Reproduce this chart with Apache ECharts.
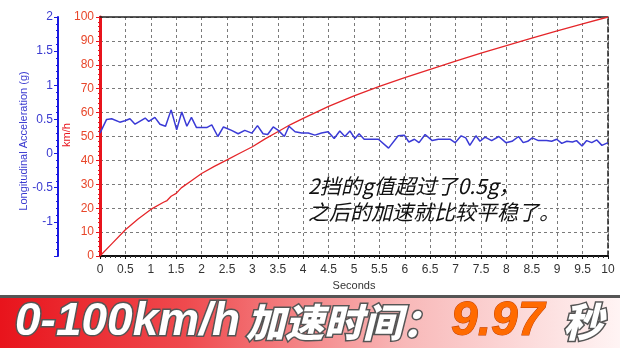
<!DOCTYPE html>
<html><head><meta charset="utf-8">
<script src="https://cdn.jsdelivr.net/npm/echarts@6/dist/echarts.min.js"></script>
<style>html,body{margin:0;padding:0;background:#fff;}#c{width:620px;height:348px;}</style>
</head><body><div id="c"></div>
<script>
// Speed (km/h) vs time (s)
const speedData = [[0,0],[0.25,5.5],[0.5,11],[0.75,15.5],[1.0,19.5],[1.25,22.5],[1.32,23.2],[1.4,25],[1.5,26.2],[1.6,28.5],[1.8,31.5],[2.0,34.5],[2.25,37.5],[2.5,40.2],[2.75,43],[3.0,45.7],[3.25,49],[3.5,52],[3.75,55],[4.0,57.6],[4.5,62.6],[5.0,67],[5.5,71],[6.0,74.6],[6.5,78.1],[7.0,81.5],[7.5,84.9],[8.0,88],[8.5,91.2],[9.0,94.2],[9.5,97.1],[10,100]];
// Longitudinal acceleration (g) vs time (s)
const accelData = [[0,0.30],[0.13,0.50],[0.23,0.51],[0.39,0.46],[0.49,0.48],[0.59,0.51],[0.69,0.43],[0.89,0.52],[0.96,0.47],[1.08,0.53],[1.18,0.43],[1.29,0.40],[1.40,0.64],[1.51,0.35],[1.61,0.61],[1.71,0.40],[1.80,0.53],[1.90,0.38],[2.00,0.38],[2.10,0.38],[2.20,0.42],[2.32,0.25],[2.43,0.39],[2.59,0.34],[2.72,0.29],[2.85,0.34],[2.99,0.30],[3.10,0.41],[3.21,0.29],[3.30,0.28],[3.41,0.39],[3.51,0.34],[3.63,0.25],[3.72,0.40],[3.84,0.32],[3.97,0.30],[4.10,0.30],[4.23,0.27],[4.36,0.30],[4.49,0.32],[4.61,0.22],[4.72,0.33],[4.82,0.25],[4.92,0.33],[5.02,0.22],[5.10,0.29],[5.20,0.21],[5.48,0.21],[5.68,0.08],[5.87,0.26],[5.99,0.27],[6.08,0.17],[6.19,0.21],[6.28,0.16],[6.40,0.28],[6.54,0.19],[6.66,0.21],[6.79,0.21],[6.89,0.21],[6.99,0.16],[7.11,0.26],[7.20,0.23],[7.28,0.12],[7.40,0.26],[7.48,0.18],[7.58,0.24],[7.71,0.19],[7.85,0.25],[7.99,0.16],[8.11,0.18],[8.24,0.25],[8.33,0.16],[8.42,0.18],[8.51,0.23],[8.63,0.19],[8.79,0.19],[8.89,0.18],[8.99,0.21],[9.09,0.15],[9.19,0.18],[9.30,0.17],[9.38,0.19],[9.49,0.11],[9.58,0.19],[9.68,0.16],[9.78,0.20],[9.88,0.12],[10.0,0.16]];
const xRange = [0, 10, 0.5];
const speedRange = [0, 100, 10];
const accelRange = [-1.5, 2, 0.5];
const annotationLines = ['2挡的g值超过了0.5g，', '之后的加速就比较平稳了。'];
const bannerLatin = '0-100km/h';
const bannerCJK = '加速时间：';
const bannerValue = '9.97';
const bannerUnit = '秒';

const chart = echarts.init(document.getElementById('c'), null, {renderer: 'canvas'});
const font = '"Liberation Sans", Arial, sans-serif';
const dashed = {color: '#7a7a7a', width: 1, type: [3, 3]};
const outline = {stroke: '#555', lineWidth: 3, strokeFirst: true,
  shadowColor: 'rgba(0,0,0,0.45)', shadowOffsetX: 2, shadowOffsetY: 2, shadowBlur: 2};
chart.setOption({
  animation: false,
  backgroundColor: '#fff',
  grid: {left: 100, right: 12, top: 17, bottom: 92},
  xAxis: [{
    type: 'value', min: xRange[0], max: xRange[1], interval: xRange[2],
    name: 'Seconds', nameLocation: 'middle', nameGap: 24,
    nameTextStyle: {color: '#333', fontSize: 11, fontFamily: font},
    axisLine: {onZero: false, lineStyle: {color: '#111', width: 2}},
    axisTick: {show: true, length: 3, lineStyle: {color: '#111'}},
    minorTick: {show: true, splitNumber: 5, length: 2, lineStyle: {color: '#333'}},
    axisLabel: {color: '#333', fontSize: 12, fontFamily: font, margin: 8},
    splitLine: {show: true, lineStyle: dashed}
  }, {
    type: 'value', position: 'top', min: xRange[0], max: xRange[1],
    axisLine: {show: true, onZero: false, lineStyle: {color: '#222', width: 1.5}},
    axisTick: {show: false}, axisLabel: {show: false}, splitLine: {show: false}
  }],
  yAxis: [{
    type: 'value', position: 'left', min: speedRange[0], max: speedRange[1], interval: speedRange[2],
    axisLine: {show: true, onZero: false, lineStyle: {color: '#e8141c', width: 3}},
    axisTick: {show: true, length: 4, lineStyle: {color: '#e8141c'}},
    minorTick: {show: true, splitNumber: 5, length: 2, lineStyle: {color: '#e8141c'}},
    axisLabel: {color: '#e8462a', fontSize: 12, fontFamily: font, margin: 6},
    splitLine: {show: true, lineStyle: dashed}
  }, {
    type: 'value', position: 'left', offset: 42, min: accelRange[0], max: accelRange[1], interval: accelRange[2],
    axisLine: {show: true, onZero: false, lineStyle: {color: '#1a1ae0', width: 2}},
    axisTick: {show: true, length: 4, lineStyle: {color: '#1a1ae0'}},
    minorTick: {show: true, splitNumber: 5, length: 2, lineStyle: {color: '#1a1ae0'}},
    axisLabel: {color: '#3a3ad0', fontSize: 12, fontFamily: font, margin: 5,
      formatter: v => (v === accelRange[0] ? '' : String(v))},
    splitLine: {show: false}
  }, {
    type: 'value', position: 'right', min: speedRange[0], max: speedRange[1],
    axisLine: {show: true, onZero: false, lineStyle: {color: '#222', width: 1.5, type: [5, 3]}},
    axisTick: {show: false}, axisLabel: {show: false}, splitLine: {show: false}
  }],
  series: [{
    type: 'line', data: speedData, yAxisIndex: 0, xAxisIndex: 0,
    showSymbol: false, lineStyle: {color: '#e5262a', width: 1.3}, z: 3
  }, {
    type: 'line', data: accelData, yAxisIndex: 1, xAxisIndex: 0,
    showSymbol: false, lineStyle: {color: '#3a3ad6', width: 1.5}, z: 4
  }],
  graphic: [
    {type: 'text', x: 24, y: 141, rotation: Math.PI / 2, z: 10,
      style: {text: 'Longitudinal Acceleration (g)', fill: '#3a3ad0', font: '11px ' + font, align: 'center', verticalAlign: 'middle'}},
    {type: 'text', x: 67, y: 135, rotation: Math.PI / 2, z: 10,
      style: {text: 'km/h', fill: '#e8141c', font: '11px ' + font, align: 'center', verticalAlign: 'middle'}},
    {type: 'text', x: 308, y: 186, z: 10,
      style: {text: annotationLines[0], fill: '#111', font: 'italic 21px "Noto Sans CJK SC", sans-serif', verticalAlign: 'middle',
        shadowColor: '#ffff90', shadowBlur: 8}},
    {type: 'text', x: 308, y: 212, z: 10,
      style: {text: annotationLines[1], fill: '#111', font: 'italic 21px "Noto Sans CJK SC", sans-serif', verticalAlign: 'middle',
        shadowColor: '#ffff90', shadowBlur: 8}},
    {type: 'rect', shape: {x: 0, y: 295, width: 620, height: 3}, z: 9, style: {fill: '#555'}},
    {type: 'rect', shape: {x: 0, y: 298, width: 620, height: 50}, z: 9,
      style: {fill: new echarts.graphic.LinearGradient(0, 0, 1, 0, [
        {offset: 0, color: '#e8141c'}, {offset: 0.3, color: '#ef4a4e'},
        {offset: 0.65, color: '#f8b8b8'}, {offset: 1, color: '#fff4f4'}])}},
    {type: 'text', x: 15, y: 322, z: 11,
      style: Object.assign({text: bannerLatin, fill: '#fff',
        font: 'italic bold 46px "Liberation Sans", sans-serif', verticalAlign: 'middle'}, outline)},
    {type: 'text', x: 246, y: 322, z: 11,
      style: Object.assign({text: bannerCJK, fill: '#fff',
        font: 'italic 900 39px "Noto Sans CJK SC", sans-serif', verticalAlign: 'middle'}, outline)},
    {type: 'text', x: 451, y: 322, z: 11,
      style: {text: bannerValue, fill: '#ff6a00', stroke: '#c04000', lineWidth: 1, strokeFirst: true,
        font: 'italic bold 48px "Liberation Sans", sans-serif', verticalAlign: 'middle'}},
    {type: 'text', x: 563, y: 322, z: 11,
      style: Object.assign({text: bannerUnit, fill: '#fff',
        font: 'italic 900 40px "Noto Sans CJK SC", sans-serif', verticalAlign: 'middle'}, outline)}
  ]
});
</script></body></html>
